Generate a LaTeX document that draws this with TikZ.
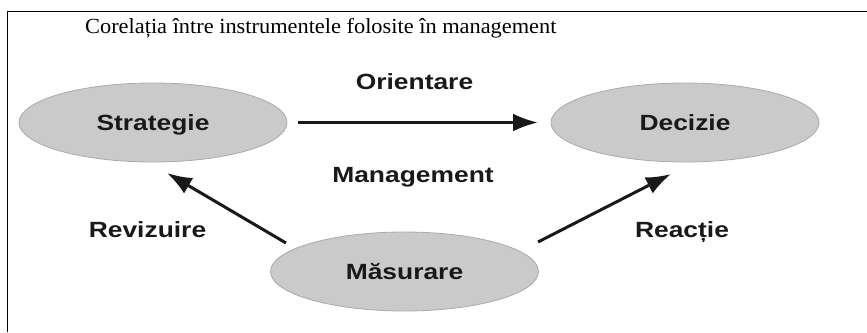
\documentclass[tikz,border=0pt]{standalone}
\usepackage{fontspec}
\setmainfont{Liberation Serif}
\newfontfamily\titlef{Liberation Serif}[FakeStretch=1.04]
\newfontfamily\lab{Liberation Sans}[FakeStretch=1.2]
\usetikzlibrary{shapes.geometric,arrows.meta}
\definecolor{ellfill}{RGB}{202,202,202}
\definecolor{ellline}{RGB}{170,170,170}
\definecolor{txt}{RGB}{25,25,25}
\begin{document}
\begin{tikzpicture}[x=1pt,y=-1pt,
  ell/.style={ellipse, draw=ellline, fill=ellfill, line width=0.8pt,
    minimum width=268pt, minimum height=79pt, inner sep=0pt,
    font=\lab\bfseries\fontsize{22}{26}\selectfont, text=txt,
    text height=15.5pt, text depth=0pt},
  lbl/.style={font=\lab\bfseries\fontsize{22}{26}\selectfont, text=txt,
    inner sep=0pt, text height=15.5pt, text depth=0pt},
  arr/.style={line width=3pt, draw=txt, -{Latex[length=25pt,width=18pt]}},
  frame/.style={line width=1pt, draw=black}]
\useasboundingbox (0,0) rectangle (867,332);
% frame
\draw[frame] (867,11) -- (7,11) -- (7,332);
% title
\node[anchor=base west, inner sep=0pt, font=\titlef\fontsize{21.5}{25}\selectfont] (title) at (85,33) {Corelația între instrumentele folosite în management};
% ellipses
\node[ell] (str) at (153,122.5) {Strategie};
\node[ell] (dec) at (685,122.5) {Decizie};
\node[ell] (mas) at (404.5,271.5) {Măsurare};
% labels
\node[lbl] (ori) at (414.5,81.5) {Orientare};
\node[lbl] (man) at (413,174.5) {Management};
\node[lbl] (rev) at (147.5,230) {Revizuire};
\node[lbl] (rea) at (682,230) {Reacție};
% arrows
\draw[arr] ([xshift=145pt]str.center) -- ([xshift=-147pt]dec.center);
\draw[arr] ([shift={(-118.5,-28.5)}]mas.center) -- ([shift={(14,50.5)}]str.center);
\draw[arr] ([shift={(133.5,-29.5)}]mas.center) -- ([shift={(-14,51.5)}]dec.center);
\end{tikzpicture}
\end{document}
